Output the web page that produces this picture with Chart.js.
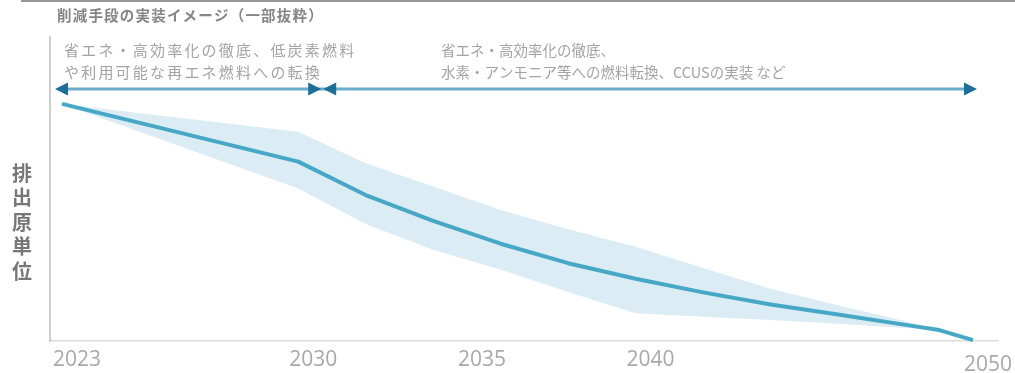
<!DOCTYPE html>
<html lang="ja">
<head>
  <meta charset="UTF-8" />
  <title>削減手段の実装イメージ</title>
  <script src="https://cdn.jsdelivr.net/npm/chart.js"></script>
  <style>
    body { margin: 0; background: #fff; }
    #wrap { width: 1015px; height: 373px; position: relative; }
  </style>
</head>
<body>
  <div id="wrap"><canvas id="chart"></canvas></div>
  <script>
    // values (0 = zero emissions, 100 = top of axis)
    const years   = [2023, 2030, 2032, 2034, 2036, 2038, 2040, 2042, 2044, 2046, 2048, 2049, 2050];
    const central = [78.0, 59.0, 48.0, 39.5, 32.0, 25.6, 20.5, 16.0, 12.0, 8.7, 5.3, 3.6, 0.3];
    const upper   = [78.0, 68.8, 58.5, 50.8, 43.1, 36.8, 31.0, 24.0, 17.2, 11.8, 6.5, 3.6, 0.3];
    const lower   = [78.0, 50.2, 38.5, 30.0, 23.4, 16.1, 9.1, 8.0, 6.9, 5.7, 4.3, 3.6, 0.3];
    const tickYears = [2023, 2030, 2035, 2040, 2050];

    const title = '削減手段の実装イメージ（一部抜粋）';
    const yTitle = '排出原単位';
    const noteLeft = ['省エネ・高効率化の徹底、低炭素燃料', 'や利用可能な再エネ燃料への転換'];
    const noteRight = ['省エネ・高効率化の徹底、', '水素・アンモニア等への燃料転換、CCUSの実装 など'];

    const pts = arr => years.map((y, i) => ({ x: y, y: arr[i] }));

    function head(ctx, tip, y, dir) {
      ctx.beginPath();
      ctx.moveTo(tip, y);
      ctx.lineTo(tip - dir * 13, y - 6.5);
      ctx.lineTo(tip - dir * 13, y + 6.5);
      ctx.closePath();
      ctx.fill();
    }

    const decor = {
      id: 'decor',
      afterDraw(chart) {
        const ctx = chart.ctx;
        const xs = chart.scales.x;
        ctx.save();

        // top rule
        ctx.strokeStyle = '#9a9a9a';
        ctx.lineWidth = 2;
        ctx.beginPath();
        ctx.moveTo(21, 1);
        ctx.lineTo(1015, 1);
        ctx.stroke();

        // title
        ctx.fillStyle = '#858585';
        ctx.font = 'bold 14.5px "Noto Sans CJK JP"';
        ctx.textBaseline = 'middle';
        ctx.textAlign = 'left';
        ctx.letterSpacing = '1.2px';
        ctx.fillText(title, 57, 15);

        // vertical axis title
        ctx.letterSpacing = '0px';
        ctx.fillStyle = '#777';
        ctx.font = 'bold 20px "Noto Sans CJK JP"';
        ctx.textAlign = 'center';
        [...yTitle].forEach((c, i) => ctx.fillText(c, 22, 173 + i * 24.5));

        // notes
        ctx.fillStyle = '#a3a3a3';
        ctx.textAlign = 'left';
        ctx.font = '15px "Noto Sans CJK JP"';
        ctx.letterSpacing = '2.2px';
        noteLeft.forEach((t, i) => ctx.fillText(t, 64, 50 + i * 22));
        ctx.font = '14.5px "Noto Sans CJK JP"';
        ctx.letterSpacing = '0px';
        noteRight.forEach((t, i) => ctx.fillText(t, 441, 50 + i * 22));

        // arrows
        const ay = 89;
        const a0 = xs.getPixelForValue(2023) - 7;
        const am = xs.getPixelForValue(2030) + 24;
        const a1 = xs.getPixelForValue(2050) + 4;
        ctx.strokeStyle = '#6aaccb';
        ctx.lineWidth = 3;
        ctx.beginPath();
        ctx.moveTo(a0 + 4, ay);
        ctx.lineTo(a1 - 4, ay);
        ctx.stroke();
        ctx.fillStyle = '#1c7098';
        head(ctx, a0, ay, -1);
        head(ctx, am - 1, ay, 1);
        head(ctx, am + 1, ay, -1);
        head(ctx, a1, ay, 1);

        ctx.restore();
      }
    };

    new Chart(document.getElementById('chart'), {
      type: 'line',
      data: {
        datasets: [
          {
            data: pts(central),
            borderColor: '#46a8c6',
            borderWidth: 4,
            borderJoinStyle: 'round',
            pointRadius: 0,
            tension: 0,
            fill: false,
            clip: false
          },
          {
            data: pts(upper),
            borderWidth: 0,
            borderColor: 'rgba(0,0,0,0)',
            backgroundColor: '#dcecf5',
            pointRadius: 0,
            tension: 0,
            fill: '+1'
          },
          {
            data: pts(lower),
            borderWidth: 0,
            borderColor: 'rgba(0,0,0,0)',
            pointRadius: 0,
            tension: 0,
            fill: false
          }
        ]
      },
      options: {
        responsive: true,
        maintainAspectRatio: false,
        animation: false,
        layout: { padding: { left: 0, right: 17, top: 37, bottom: 0 } },
        plugins: { legend: { display: false }, tooltip: { enabled: false } },
        scales: {
          x: {
            type: 'linear',
            min: 2022.644,
            max: 2050.741,
            grid: { display: false, drawTicks: false },
            border: { display: true, color: '#dcdcdc', width: 1.5 },
            afterBuildTicks: axis => { axis.ticks = tickYears.map(v => ({ value: v })); },
            afterFit: axis => { axis.height = 32; axis.paddingLeft = 0; axis.paddingRight = 0; },
            ticks: {
              autoSkip: false,
              maxRotation: 0,
              align: 'start',
              labelOffset: -9,
              padding: 6,
              color: '#a8a8a8',
              font: ctx => ({
                family: '"Open Sans"',
                size: 21,
                lineHeight: ctx.tick && ctx.tick.value === 2050 ? 1.68 : 1.2
              }),
              callback: v => String(v)
            }
          },
          y: {
            type: 'linear',
            min: 0,
            max: 100,
            grid: { display: false, drawTicks: false },
            border: { display: true, color: '#cfcfcf', width: 2 },
            ticks: { display: false },
            afterFit: axis => { axis.width = 50; }
          }
        }
      },
      plugins: [decor]
    });
  </script>
</body>
</html>
